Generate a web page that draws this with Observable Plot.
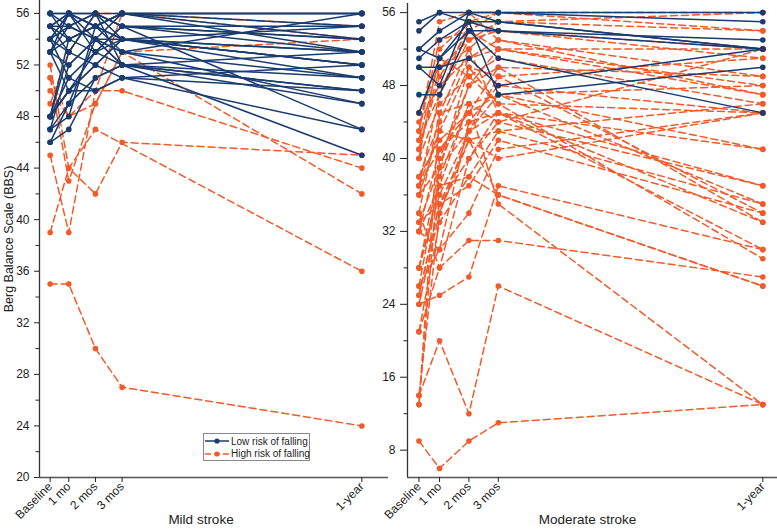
<!DOCTYPE html>
<html><head><meta charset="utf-8">
<script src="https://cdn.jsdelivr.net/npm/d3@7"></script>
<script src="https://cdn.jsdelivr.net/npm/@observablehq/plot@0.6"></script>
<style>
body{margin:0;background:#fff;font-family:"Liberation Sans",Arial,sans-serif;}
#wrap{position:relative;width:777px;height:532px;overflow:hidden;background:#fff;}
#left,#right{position:absolute;top:0;}
#left{left:0;}
#right{left:370px;}
#legend{position:absolute;left:203px;top:433px;width:107px;height:28px;border:1px solid #888;background:#fff;font-size:10px;color:#222;box-sizing:border-box;padding-top:1px;white-space:nowrap;}
#legend .row{display:flex;align-items:center;height:12.5px;white-space:nowrap;}
#legend svg{display:block;margin-right:1px;flex:none;}
</style></head><body>
<div id="wrap"><div id="left"></div><div id="right"></div><div id="legend"></div></div>
<script>
const timeLabels = ["Baseline", "1 mo", "2 mos", "3 mos", "1-year"];
const timeMonths = [0.3, 1, 2, 3, 12];
const seriesNames = ["Low risk of falling", "High risk of falling"];
const panelTitles = ["Mild stroke", "Moderate stroke"];
const yTitle = "Berg Balance Scale (BBS)";
const mildTicks = [20, 24, 28, 32, 36, 40, 44, 48, 52, 56];
const mildMinor = [22, 26, 30, 34, 38, 42, 46, 50, 54];
const modTicks = [8, 16, 24, 32, 40, 48, 56];
const modMinor = [12, 20, 28, 36, 44, 52];

// Mild stroke, low risk of falling (baseline, 1 mo, 2 mos, 3 mos, 1-year)
const mildLow = [
  [56,56,56,56,56],[55,56,55,56,56],[54,55,56,55,54],[53,54,55,54,52],
  [48,50,53,54,51],[47,49,54,52,50],[46,47,51,52,45],[48,51,50,51,47],
  [56,55,54,56,53],[55,53,56,54,52],[54,56,53,55,55],[53,52,54,53,49],
  [48,50,52,54,53],[47,48,55,56,54],[48,53,56,52,51],[55,55,54,53,56],
  [56,54,55,54,52],[54,53,52,51,50],[53,55,56,55,53],[48,54,55,56,56],
  [46,49,51,52,49],[55,56,56,55,54],[54,51,53,52,53],[56,56,55,53,51],
  [53,56,54,54,55],[48,50,50,51,52],[47,52,54,52,50],[55,54,53,55,47],
  [54,56,55,56,55],[53,50,52,54,53]
];
// Mild stroke, high risk of falling
const mildHigh = [
  [35,35,30,27,24],[39,44,47,null,36],[45,39,50,56,54],[51,43,49,53,42],
  [52,44,42,46,45],[50,48,50,50,44],[49,53,56,56,55],[51,48,49,53,54]
];
// Moderate stroke, low risk of falling
const moderateLow = [
  [55,56,56,56,56],[54,56,55,55,52],[52,54,56,56,55],[51,53,55,54,53],
  [50,50,51,48,52],[47,47,54,51,45],[45,51,55,47,50],[52,51,54,54,52],
  [50,48,56,55,52]
];
// Moderate stroke, high risk of falling
const moderateHigh = [
  [9,6,9,11,13],[14,20,12,26,13],[13,45,46,35,13],[21,28,31,31,27],
  [24,25,27,37,30],[25,35,40,45,41],[26,38,46,44,37],[28,36,43,47,35],
  [32,41,45,50,33],[33,39,48,52,52],[34,45,52,55,56],[36,43,50,49,34],
  [37,47,53,54,51],[38,44,51,53,49],[40,52,55,56,54],[41,49,54,52,48],
  [42,51,49,46,29],[43,55,56,53,47],[24,34,42,43,46],[28,37,38,36,26],
  [32,30,34,41,45],[33,35,37,42,34],[34,28,40,44,52],[37,41,44,48,45],
  [13,40,48,50,49],[40,46,49,51,46],[26,30,44,45,37],[25,35,42,36,26],
  [42,47,55,54,52],[41,50,52,45,33],[38,42,45,47,48],[36,39,43,49,51],
  [21,33,38,43,35],[43,53,54,56,56],[44,48,51,52,47],[45,50,53,55,54],
  [14,34,43,45,30],[32,37,46,47,41],[28,39,50,46,45],[37,43,42,40,45]
];

const BLUE = "#1a3b6e", ORANGE = "#f25a29";

function tidy(rows, key) {
  return rows.flatMap((vals, i) => vals.map((v, j) => ({id: key + i, t: timeMonths[j], v})).filter(d => d.v != null));
}

function panel(o) {
  const lowData = tidy(o.low, "L"), highData = tidy(o.high, "H");
  const marks = [
    Plot.ruleX([o.xDomain[0]], {stroke: "#333", strokeWidth: 1.3}),
    Plot.ruleY([o.yDomain[0]], {stroke: "#555", strokeWidth: 1.6}),
    Plot.axisY({ticks: o.major, tickSize: o.tickSize, tickPadding: o.tickPadding, fontSize: 12}),
    Plot.axisY({ticks: o.minor, tickSize: 3.5, tickFormat: () => ""}),
    Plot.axisX({ticks: timeMonths, tickFormat: d => timeLabels[timeMonths.indexOf(d)], tickRotate: -45, tickSize: 5, tickPadding: 2, fontSize: 12}),
    Plot.line(highData, {x: "t", y: "v", z: "id", stroke: ORANGE, strokeWidth: 1.5, strokeDasharray: "7,4"}),
    Plot.dot(highData, {x: "t", y: "v", fill: ORANGE, r: 2.8}),
    Plot.line(lowData, {x: "t", y: "v", z: "id", stroke: BLUE, strokeWidth: 1.5}),
    Plot.dot(lowData, {x: "t", y: "v", fill: BLUE, r: 2.8}),
    Plot.text([o.title], {frameAnchor: "bottom", dy: 46, dx: o.titleDx, fontSize: 13.5, fill: "#222"})
  ];
  if (o.yTitle) marks.push(Plot.text([o.yTitle], {frameAnchor: "left", textAnchor: "middle", rotate: -90, dx: -31, dy: 0, fontSize: 12.5, fill: "#222"}));
  return Plot.plot({
    width: o.width, height: 532,
    marginLeft: o.marginLeft, marginRight: o.marginRight, marginTop: o.marginTop, marginBottom: 55,
    style: {background: "transparent", overflow: "visible", fontFamily: "'Liberation Sans', Arial, sans-serif", fontSize: "12px", color: "#222"},
    x: {domain: o.xDomain, label: null},
    y: {domain: o.yDomain, label: null},
    marks
  });
}

document.getElementById("left").appendChild(panel({
  low: mildLow, high: mildHigh, xDomain: [-0.1, 13], yDomain: [20, 57],
  major: mildTicks, minor: mildMinor, width: 392, marginLeft: 39, marginRight: 4, marginTop: 0,
  title: panelTitles[0], titleDx: -13, yTitle: yTitle, tickSize: 5, tickPadding: 5
}));
document.getElementById("right").appendChild(panel({
  low: moderateLow, high: moderateHigh, xDomain: [-0.09, 12.5], yDomain: [5, 57],
  major: modTicks, minor: modMinor, width: 407, marginLeft: 37, marginRight: 0, marginTop: 3,
  title: panelTitles[1], titleDx: -5, yTitle: null, tickSize: 7, tickPadding: 5
}));

const legend = document.getElementById("legend");
seriesNames.forEach((name, i) => {
  const color = i === 0 ? BLUE : ORANGE;
  const dash = i === 0 ? "" : "stroke-dasharray='6,3'";
  const row = document.createElement("div");
  row.className = "row";
  row.innerHTML = `<svg width="26" height="10"><line x1="1" x2="25" y1="5" y2="5" stroke="${color}" stroke-width="1.5" ${dash}/><circle cx="13" cy="5" r="2.6" fill="${color}"/></svg><span>${name}</span>`;
  legend.appendChild(row);
});
</script>
</body></html>
